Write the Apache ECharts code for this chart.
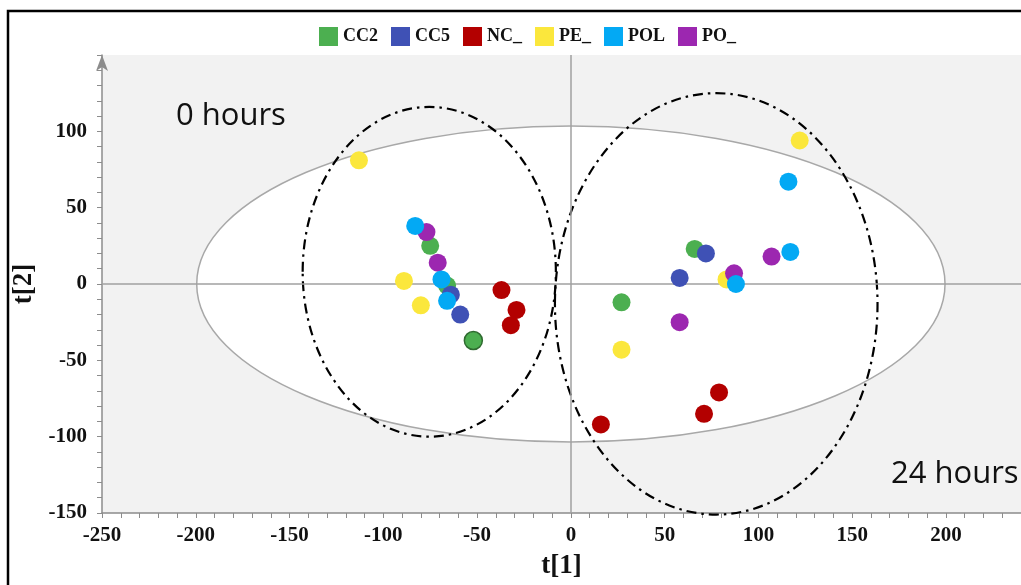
<!DOCTYPE html>
<html>
<head>
<meta charset="utf-8">
<title>PCA score plot</title>
<script src="https://cdn.jsdelivr.net/npm/echarts@6/dist/echarts.min.js"></script>
<style>
  html, body { margin: 0; padding: 0; background: #fff; }
  #main { width: 1021px; height: 585px; }
</style>
</head>
<body>
<div id="main"></div>
<script>
// 分组名称 (legend order)
const groups = ['CC2', 'CC5', 'NC_', 'PE_', 'POL', 'PO_'];
const groupColors = ['#4caf50', '#3f51b5', '#b30000', '#fbe73c', '#03a9f4', '#9c27b0'];

// t[1], t[2] scores per group
const cc2 = [[-75, 25], [-66, -1], [-52, -37], [66, 23], [27, -12]];
const cc5 = [[-64, -7], [-59, -20], [72, 20], [58, 4]];
const nc = [[-37, -4], [-29, -17], [-32, -27], [79, -71], [71, -85], [16, -92]];
const pe = [[-113, 81], [-89, 2], [-80, -14], [122, 94], [83, 3], [27, -43]];
const pol = [[-83, 38], [-69, 3], [-66, -11], [116, 67], [117, 21], [88, 0]];
const po = [[-77, 34], [-71, 14], [107, 18], [87, 7], [58, -25]];

// Hotelling ellipse + the two hand-drawn group ellipses: [cx, cy, rx, ry]
const hotelling = [[0, 0, 199.5, 103.5]];
const groupEllipses = [[-75.5, 8, 67.5, 108], [77.5, -13, 86, 138]];

const xTicks = { min: -250, max: 240, interval: 50 };
const yTicks = { min: -150, max: 150, interval: 50 };

let chartDom = document.getElementById('main');
let myChart = echarts.init(chartDom);
let option;

const serif = '"Liberation Serif", "Times New Roman", serif';

function ellipseItem(style) {
  return function (params, api) {
    const c = api.coord([api.value(0), api.value(1)]);
    const s = api.size([api.value(2), api.value(3)]);
    return {
      type: 'ellipse',
      shape: { cx: c[0], cy: c[1], rx: s[0], ry: s[1] },
      style: style
    };
  };
}

function scatter(name, data, color, z) {
  return {
    name: name,
    type: 'scatter',
    symbolSize: 18,
    z: z,
    itemStyle: { color: color, opacity: 1 },
    data: data
  };
}

// the one ringed green point
const cc2Data = cc2.map(p => p);
cc2Data[2] = { value: cc2[2], itemStyle: { borderColor: '#2f6b30', borderWidth: 1.5 } };

option = {
  animation: false,
  color: groupColors,
  legend: {
    data: groups,
    top: 22,
    left: 314,
    icon: 'rect',
    itemWidth: 19,
    itemHeight: 19,
    itemGap: 13,
    textStyle: { fontFamily: serif, fontWeight: 'bold', fontSize: 18, color: '#111' }
  },
  grid: {
    left: 102,
    right: 0,
    top: 55,
    bottom: 70,
    show: true,
    backgroundColor: '#f2f2f2',
    borderWidth: 0
  },
  xAxis: {
    type: 'value',
    min: xTicks.min,
    max: xTicks.max,
    interval: xTicks.interval,
    name: 't[1]',
    nameLocation: 'middle',
    nameGap: 40,
    nameTextStyle: { fontFamily: serif, fontWeight: 'bold', fontSize: 27, color: '#111' },
    axisLine: { onZero: false, lineStyle: { color: '#8c8c8c', width: 1.5 } },
    axisTick: { show: true, length: 5, lineStyle: { color: '#8c8c8c' } },
    minorTick: { show: true, splitNumber: 5, length: 5, lineStyle: { color: '#8c8c8c' } },
    splitLine: { show: false },
    axisLabel: {
      showMaxLabel: false,
      margin: 12,
      fontFamily: serif, fontWeight: 'bold', fontSize: 21, color: '#111'
    }
  },
  yAxis: {
    type: 'value',
    min: yTicks.min,
    max: yTicks.max,
    interval: yTicks.interval,
    name: 't[2]',
    nameLocation: 'middle',
    nameGap: 60,
    nameTextStyle: { fontFamily: serif, fontWeight: 'bold', fontSize: 27, color: '#111' },
    axisLine: {
      show: true,
      onZero: false,
      symbol: ['none', 'arrow'],
      symbolSize: [9, 16],
      lineStyle: { color: '#8c8c8c', width: 1.5 }
    },
    axisTick: { show: true, length: 5, lineStyle: { color: '#8c8c8c' } },
    minorTick: { show: true, splitNumber: 5, length: 5, lineStyle: { color: '#8c8c8c' } },
    splitLine: { show: false },
    axisLabel: {
      showMaxLabel: false,
      margin: 15,
      fontFamily: serif, fontWeight: 'bold', fontSize: 21, color: '#111'
    }
  },
  graphic: [
    {
      type: 'rect',
      shape: { x: 8, y: 11, width: 1100, height: 700 },
      style: { fill: 'none', stroke: '#000', lineWidth: 2.5 },
      z: 100
    },
    {
      type: 'text',
      left: 176,
      top: 101,
      style: { text: '0 hours', fontFamily: '"Open Sans", sans-serif', fontSize: 31, fill: '#111' },
      z: 50
    },
    {
      type: 'text',
      left: 891,
      top: 459,
      style: { text: '24 hours', fontFamily: '"Open Sans", sans-serif', fontSize: 31, fill: '#111' },
      z: 50
    }
  ],
  series: [
    {
      type: 'custom',
      name: 'hotelling',
      silent: true,
      z: 1,
      renderItem: ellipseItem({ fill: '#fff', stroke: '#a8a8a8', lineWidth: 1.5 }),
      data: hotelling
    },
    {
      type: 'line',
      name: 'origin',
      silent: true,
      z: 2,
      data: [],
      markLine: {
        silent: true,
        symbol: 'none',
        label: { show: false },
        lineStyle: { color: '#a0a0a0', width: 1.5, type: 'solid' },
        data: [{ xAxis: 0 }, { yAxis: 0 }]
      }
    },
    {
      type: 'custom',
      name: 'groups',
      silent: true,
      z: 3,
      renderItem: ellipseItem({ fill: 'none', stroke: '#000', lineWidth: 2.2, lineDash: [10, 5, 2.5, 5] }),
      data: groupEllipses
    },
    scatter('CC2', cc2Data, groupColors[0], 5),
    scatter('CC5', cc5, groupColors[1], 6),
    scatter('NC_', nc, groupColors[2], 7),
    scatter('PE_', pe, groupColors[3], 8),
    scatter('PO_', po, groupColors[5], 9),
    scatter('POL', pol, groupColors[4], 10)
  ]
};

option && myChart.setOption(option);
</script>
</body>
</html>
